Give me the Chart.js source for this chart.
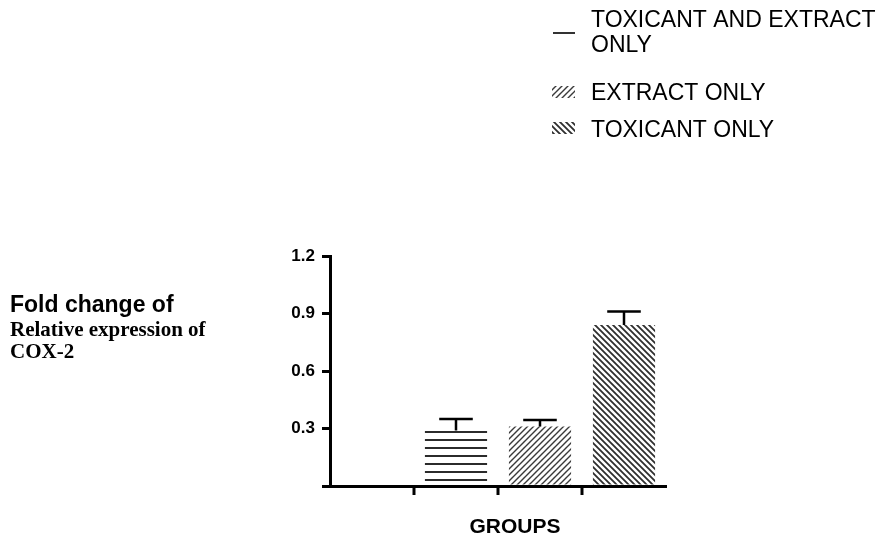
<!DOCTYPE html>
<html>
<head>
<meta charset="utf-8">
<script src="https://cdn.jsdelivr.net/npm/chart.js@4.4.1/dist/chart.umd.min.js"></script>
<style>
  html, body { margin: 0; padding: 0; background: #fff; }
  #wrap { width: 878px; height: 537px; }
</style>
</head>
<body>
<div id="wrap"><canvas id="cox2Chart" width="878" height="537"></canvas></div>
<script>
// data
var groupNames = ['TOXICANT AND EXTRACT ONLY', 'EXTRACT ONLY', 'TOXICANT ONLY'];
var foldChange = [0.29, 0.31, 0.84];
var errorUp = [0.06, 0.035, 0.07];
var yTickValues = [0, 0.3, 0.6, 0.9, 1.2];

// hatch fills like the prism bars
function makePattern(kind, color, lw) {
    var c = document.createElement('canvas');
    var s = kind === 'h' ? 8 : 6;
    c.width = s; c.height = s;
    var g = c.getContext('2d');
    g.fillStyle = color;
    g.strokeStyle = color;
    g.lineWidth = lw;
    if (kind === 'h') {
        g.fillRect(0, 0, s, 1);
        g.fillRect(0, 7, s, 1);
    } else if (kind === '/') {
        g.beginPath();
        g.moveTo(-1, 1); g.lineTo(1, -1);
        g.moveTo(0, s); g.lineTo(s, 0);
        g.moveTo(s - 1, s + 1); g.lineTo(s + 1, s - 1);
        g.stroke();
    } else {
        g.beginPath();
        g.moveTo(0, 0); g.lineTo(s, s);
        g.moveTo(-1, s - 1); g.lineTo(1, s + 1);
        g.moveTo(s - 1, -1); g.lineTo(s + 1, 1);
        g.stroke();
    }
    return document.getElementById('cox2Chart').getContext('2d').createPattern(c, 'repeat');
}

var fills = [
    makePattern('h', '#2b2b2b', 1),
    makePattern('/', '#3a3a3a', 1.4),
    makePattern('\\', '#2e2e2e', 1.8)
];

// first slot left empty, like the prism layout
var xLabels = [''].concat(groupNames);

var datasets = groupNames.map(function(name, i){
    return {
        label: name,
        data: xLabels.map(function(l, j){ return j === i + 1 ? foldChange[i] : null; }),
        backgroundColor: fills[i],
        borderWidth: 0,
        grouped: false,
        categoryPercentage: 1,
        barPercentage: 0.74
    };
});

// upper error bars only, plus the x tick marks between slots
var errorBars = {
    id: 'errorBars',
    afterDatasetsDraw: function(chart){
        var ctx = chart.ctx;
        var y = chart.scales.y;
        var x = chart.scales.x;
        ctx.save();
        ctx.strokeStyle = '#000';
        ctx.lineWidth = 2.5;
        chart.data.datasets.forEach(function(ds, i){
            var meta = chart.getDatasetMeta(i);
            meta.data.forEach(function(bar, j){
                var v = ds.data[j];
                if (v === null) return;
                var top = y.getPixelForValue(v + errorUp[i]);
                var half = bar.width * 0.27;
                ctx.beginPath();
                ctx.moveTo(bar.x, bar.y);
                ctx.lineTo(bar.x, top);
                ctx.moveTo(bar.x - half, top);
                ctx.lineTo(bar.x + half, top);
                ctx.stroke();
            });
        });
        ctx.lineWidth = 3;
        for (var k = 1; k < xLabels.length; k++) {
            var px = (x.getPixelForValue(k - 1) + x.getPixelForValue(k)) / 2;
            ctx.beginPath();
            ctx.moveTo(px, x.top);
            ctx.lineTo(px, x.top + 9);
            ctx.stroke();
        }
        ctx.restore();
    }
};

// legend at top right and the horizontal axis titles
var extraText = {
    id: 'extraText',
    afterDraw: function(chart){
        var ctx = chart.ctx;
        ctx.save();
        ctx.fillStyle = '#000';
        ctx.textAlign = 'left';
        ctx.textBaseline = 'alphabetic';

        ctx.font = '23px "Liberation Sans", Arial, sans-serif';
        var legendLines = [['TOXICANT AND EXTRACT', 'ONLY'], ['EXTRACT ONLY'], ['TOXICANT ONLY']];
        var baselines = [[27, 52], [100], [137]];
        legendLines.forEach(function(lines, i){
            lines.forEach(function(t, k){ ctx.fillText(t, 591, baselines[i][k]); });
        });
        // legend swatches
        ctx.fillStyle = '#333';
        ctx.fillRect(553, 32, 22, 2);
        ctx.fillStyle = fills[1];
        ctx.fillRect(552, 86, 23, 12);
        ctx.fillStyle = fills[2];
        ctx.fillRect(552, 122, 23, 12);

        ctx.fillStyle = '#000';
        ctx.font = 'bold 23px "Liberation Sans", Arial, sans-serif';
        ctx.fillText('Fold change of', 10, 312);
        ctx.font = 'bold 21px "Liberation Serif", "Times New Roman", serif';
        ctx.fillText('Relative expression of', 10, 336);
        ctx.fillText('COX-2', 10, 358);

        ctx.textAlign = 'center';
        ctx.font = 'bold 21px "Liberation Sans", Arial, sans-serif';
        ctx.fillText('GROUPS', 515, 533);
        ctx.restore();
    }
};

var ctx = document.getElementById('cox2Chart').getContext('2d');
var myChart = new Chart(ctx, {
    type: 'bar',
    data: {
        labels: xLabels,
        datasets: datasets
    },
    options: {
        responsive: false,
        animation: false,
        layout: { padding: { top: 256, right: 212, bottom: 0, left: 0 } },
        plugins: {
            legend: { display: false },
            tooltip: { enabled: false },
            title: { display: false }
        },
        scales: {
            x: {
                type: 'category',
                offset: true,
                afterFit: function(scale){ scale.height = 51; },
                grid: { display: false },
                border: { color: '#000', width: 3 },
                ticks: { display: false }
            },
            y: {
                min: 0,
                max: 1.2,
                afterFit: function(scale){ scale.width = 330; },
                afterBuildTicks: function(scale){
                    scale.ticks = yTickValues.map(function(v){ return { value: v }; });
                },
                grid: {
                    drawOnChartArea: false,
                    tickLength: 8,
                    lineWidth: 3,
                    color: '#000'
                },
                border: { color: '#000', width: 3 },
                ticks: {
                    padding: 7,
                    color: '#000',
                    font: { family: '"Liberation Sans", Arial, sans-serif', size: 17, weight: 'bold' },
                    callback: function(v){ return v === 0 ? '' : v.toFixed(1); }
                }
            }
        }
    },
    plugins: [errorBars, extraText]
});
</script>
</body>
</html>
